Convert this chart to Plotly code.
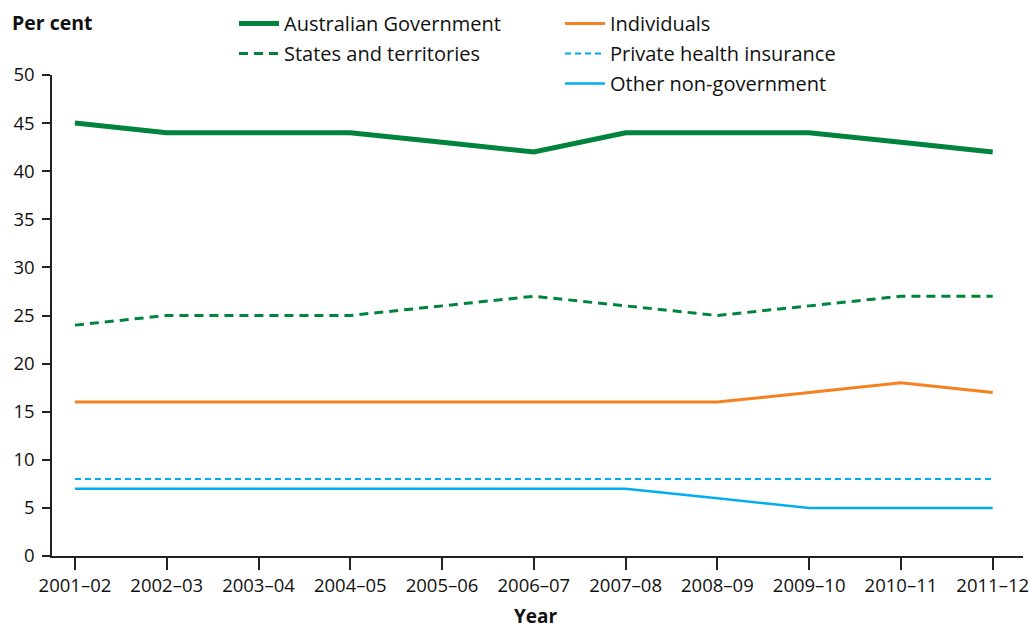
import plotly.graph_objects as go

years = ["2001–02", "2002–03", "2003–04", "2004–05", "2005–06", "2006–07",
         "2007–08", "2008–09", "2009–10", "2010–11", "2011–12"]
aus_gov = [45, 44, 44, 44, 43, 42, 44, 44, 44, 43, 42]
states = [24, 25, 25, 25, 26, 27, 26, 25, 26, 27, 27]
individuals = [16, 16, 16, 16, 16, 16, 16, 16, 17, 18, 17]
private_hi = [8, 8, 8, 8, 8, 8, 8, 8, 8, 8, 8]
other_ng = [7, 7, 7, 7, 7, 7, 7, 6, 5, 5, 5]

GREEN = "#00843D"
ORANGE = "#F5821F"
BLUE = "#00AEEF"
FONT = "Open Sans"

x = list(range(len(years)))
fig = go.Figure()
fig.add_trace(go.Scatter(x=x, y=aus_gov, mode="lines", name="Australian Government",
                         line=dict(color=GREEN, width=5), legend="legend", legendgroup="a"))
fig.add_trace(go.Scatter(x=x, y=states, mode="lines", name="States and territories",
                         line=dict(color=GREEN, width=3, dash="9px,6px"), legend="legend", legendgroup="b"))
fig.add_trace(go.Scatter(x=x, y=individuals, mode="lines", name="Individuals",
                         line=dict(color=ORANGE, width=3), legend="legend2", legendgroup="c"))
fig.add_trace(go.Scatter(x=x, y=private_hi, mode="lines", name="Private health insurance",
                         line=dict(color=BLUE, width=2, dash="6px,4px"), legend="legend2", legendgroup="d"))
fig.add_trace(go.Scatter(x=x, y=other_ng, mode="lines", name="Other non-government",
                         line=dict(color=BLUE, width=2.5), legend="legend2", legendgroup="e"))

legend_common = dict(bgcolor="rgba(0,0,0,0)", font=dict(family=FONT, size=20, color="#111"),
                     xref="paper", yref="container", xanchor="left", yanchor="top",
                     tracegroupgap=1, itemwidth=40)
fig.update_layout(
    width=1029, height=628,
    margin=dict(l=52, r=6, t=75, b=72, autoexpand=False),
    paper_bgcolor="white", plot_bgcolor="white",
    font=dict(family=FONT, size=18, color="#111"),
    showlegend=True,
    legend=dict(x=(234 - 52) / 971, y=1.0 - 4 / 628, **legend_common),
    legend2=dict(x=(560 - 52) / 971, y=1.0 - 4 / 628, **legend_common),
    xaxis=dict(
        tickmode="array", tickvals=x, ticktext=years,
        range=[-0.25, 10.33], showgrid=False, zeroline=False,
        showline=True, linecolor="#222", linewidth=1.5,
        ticks="outside", ticklen=12, tickwidth=1.5, tickcolor="#222",
        ticklabeloverflow="allow",
        tickfont=dict(family=FONT, size=18.5, color="#111"),
    ),
    yaxis=dict(
        range=[0, 50], dtick=5, showgrid=False, zeroline=False,
        showline=True, linecolor="#222", linewidth=1.5,
        ticks="outside", ticklen=8, tickwidth=1.5, tickcolor="#222",
        ticklabelstandoff=4,
        tickfont=dict(family=FONT, size=18.5, color="#111"),
    ),
    annotations=[
        dict(text="<b>Per cent</b>", xref="paper", yref="paper",
             x=-42 / 971, y=1.0, xanchor="left", yanchor="bottom",
             yshift=37, showarrow=False,
             font=dict(family=FONT, size=19.5, color="#111")),
        dict(text="<b>Year</b>", xref="paper", yref="paper",
             x=(536 - 52) / 971, y=0, xanchor="center", yanchor="top",
             yshift=-45, showarrow=False,
             font=dict(family=FONT, size=19, color="#111")),
    ],
)

fig.write_html("out.html", config={"displayModeBar": False},
               post_script="document.body.style.margin='0';document.body.style.overflow='hidden';")
